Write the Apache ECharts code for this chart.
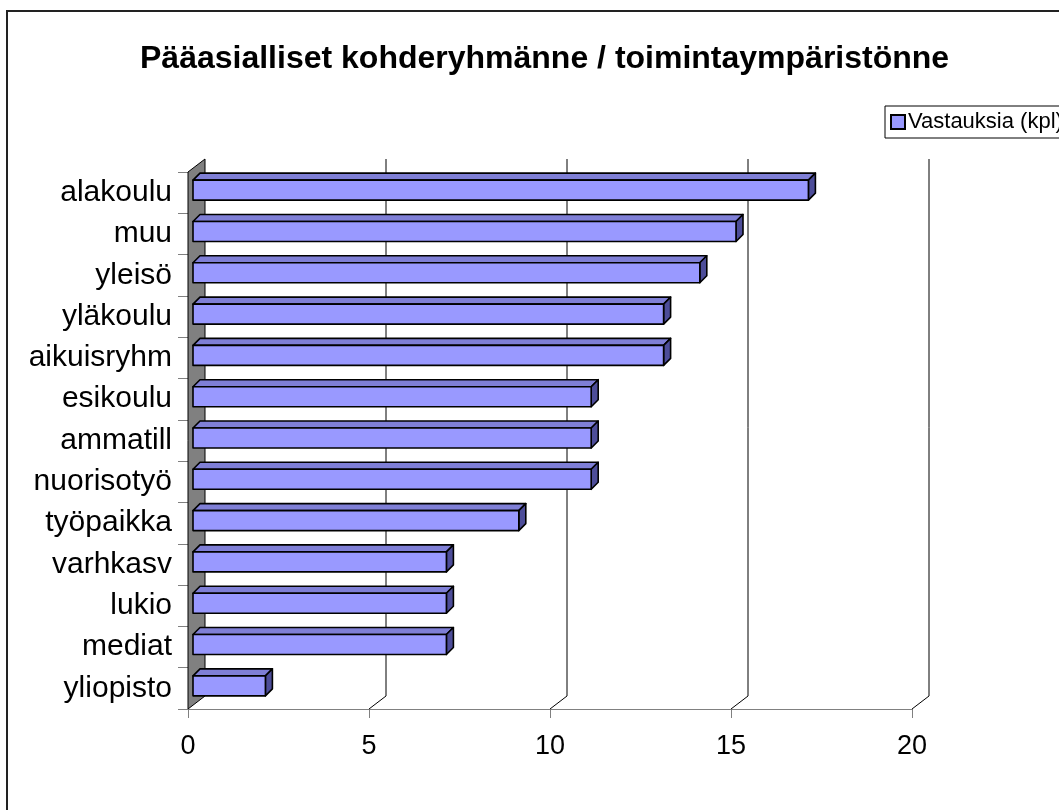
<!DOCTYPE html>
<html>
<head>
<meta charset="utf-8">
<title>Pääasialliset kohderyhmänne</title>
<script src="https://cdn.jsdelivr.net/npm/echarts@6/dist/echarts.min.js"></script>
<style>
  html, body { margin: 0; padding: 0; background: #fff; }
  #chart { width: 1059px; height: 810px; }
</style>
</head>
<body>
<div id="chart"></div>
<script>
// data
var categories = ['alakoulu', 'muu', 'yleisö', 'yläkoulu', 'aikuisryhm', 'esikoulu', 'ammatill',
  'nuorisotyö', 'työpaikka', 'varhkasv', 'lukio', 'mediat', 'yliopisto'];
var answers = [17, 15, 14, 13, 13, 11, 11, 11, 9, 7, 7, 7, 2];
var tickValues = [0, 5, 10, 15, 20];
var seriesName = 'Vastauksia (kpl)';

var FONT = '"Liberation Sans", Arial, sans-serif';
// 3d depth of the plot (back wall offset) and of a bar
var DEPTH = [17, -13];
var BAR_OFF = [5, -3];
var BAR_DEPTH = 7;

var myChart = echarts.init(document.getElementById('chart'));

// back wall gridlines + floor diagonals + side wall
function renderFrame(params, api) {
  var v = api.value(0);
  var top = api.coord([v, 0]);
  var size = api.size([0, 1]);
  var yTop = top[1] - size[1] / 2;
  var yBot = yTop + size[1] * categories.length;
  var x = top[0];
  var children = [];
  if (v === 0) {
    children.push({
      type: 'polygon',
      shape: { points: [[x, yTop], [x + DEPTH[0], yTop + DEPTH[1]], [x + DEPTH[0], yBot + DEPTH[1]], [x, yBot]] },
      style: { fill: '#808080', stroke: '#000', lineWidth: 1 }
    });
  } else {
    children.push({
      type: 'polyline',
      shape: { points: [[x + DEPTH[0], yTop + DEPTH[1]], [x + DEPTH[0], yBot + DEPTH[1]], [x, yBot]] },
      style: { stroke: '#000', lineWidth: 1, fill: null }
    });
  }
  return { type: 'group', children: children };
}

// 3d bar: front face, top face, right side
function renderBar(params, api) {
  var idx = api.value(0);
  var val = api.value(1);
  var start = api.coord([0, idx]);
  var end = api.coord([val, idx]);
  var h = 20;
  var xl = start[0] + BAR_OFF[0];
  var xr = end[0] + BAR_OFF[0];
  var yt = start[1] + BAR_OFF[1] + 0.5 - h / 2;
  var yb = yt + h;
  var d = BAR_DEPTH;
  var line = { stroke: '#000', lineWidth: 1.6, lineJoin: 'round' };
  return {
    type: 'group',
    children: [
      { type: 'polygon', shape: { points: [[xl, yt], [xr, yt], [xr + d, yt - d], [xl + d, yt - d]] },
        style: Object.assign({ fill: '#7f7fd6' }, line) },
      { type: 'polygon', shape: { points: [[xr, yt], [xr + d, yt - d], [xr + d, yb - d], [xr, yb]] },
        style: Object.assign({ fill: '#4d4d99' }, line) },
      { type: 'rect', shape: { x: xl, y: yt, width: xr - xl, height: h },
        style: Object.assign({ fill: '#9999ff' }, line) }
    ]
  };
}

var option = {
  animation: false,
  title: {
    text: 'Pääasialliset kohderyhmänne / toimintaympäristönne',
    left: 135,
    top: 38,
    textStyle: { fontFamily: FONT, fontSize: 32, fontWeight: 'bold', color: '#000' }
  },
  legend: {
    data: [seriesName],
    left: 885,
    top: 106,
    icon: 'rect',
    itemWidth: 14,
    itemHeight: 14,
    itemGap: 4,
    padding: [5, 6, 5, 5],
    borderColor: '#000',
    borderWidth: 1,
    backgroundColor: '#fff',
    textStyle: { fontFamily: FONT, fontSize: 22, color: '#000', padding: [0, 0, 0, -2] }
  },
  graphic: [{
    type: 'rect',
    shape: { x: 7, y: 11, width: 1200, height: 900 },
    style: { fill: null, stroke: '#222', lineWidth: 2 },
    silent: true
  }],
  grid: { left: 188, right: 147, top: 172, bottom: 101 },
  xAxis: {
    type: 'value',
    min: 0,
    max: 20,
    interval: 5,
    axisLine: { show: true, lineStyle: { color: '#808080', width: 1 } },
    axisTick: { show: true, length: 9, lineStyle: { color: '#808080' } },
    axisLabel: { margin: 24, fontFamily: FONT, fontSize: 27, color: '#000' },
    splitLine: { show: false }
  },
  yAxis: {
    type: 'category',
    inverse: true,
    data: categories,
    axisLine: { show: false },
    axisTick: { show: true, length: 10, alignWithLabel: false, lineStyle: { color: '#808080' } },
    axisLabel: { margin: 16, fontFamily: FONT, fontSize: 30, color: '#000' }
  },
  series: [
    {
      type: 'custom',
      name: 'frame',
      renderItem: renderFrame,
      data: tickValues.map(function (t) { return [t]; }),
      encode: { x: 0 },
      clip: false,
      silent: true,
      z: 1
    },
    {
      type: 'custom',
      name: seriesName,
      renderItem: renderBar,
      data: answers.map(function (v, i) { return [i, v]; }),
      encode: { y: 0, x: 1 },
      itemStyle: { color: '#9999ff', borderColor: '#000', borderWidth: 1.5 },
      clip: false,
      z: 3
    }
  ]
};

myChart.setOption(option);
</script>
</body>
</html>
